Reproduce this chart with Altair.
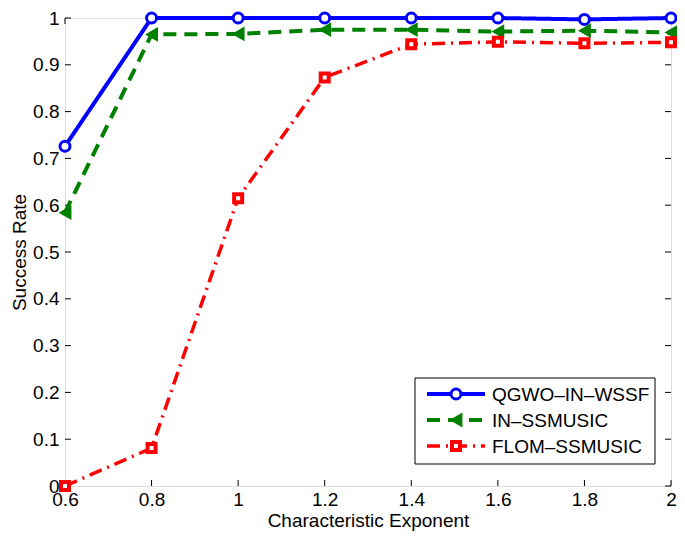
import altair as alt
import pandas as pd

# ---- data ----
exponents = [0.6, 0.8, 1.0, 1.2, 1.4, 1.6, 1.8, 2.0]
qgwo = [0.726, 1.0, 1.0, 1.0, 1.0, 1.0, 0.997, 1.0]
in_ssmusic = [0.584, 0.965, 0.966, 0.975, 0.975, 0.971, 0.973, 0.969]
flom = [0.0, 0.081, 0.615, 0.873, 0.944, 0.949, 0.946, 0.948]
names = ["QGWO\u2013IN\u2013WSSF", "IN\u2013SSMUSIC", "FLOM\u2013SSMUSIC"]
x_ticks = [0.6, 0.8, 1.0, 1.2, 1.4, 1.6, 1.8, 2.0]
y_ticks = [0, 0.1, 0.2, 0.3, 0.4, 0.5, 0.6, 0.7, 0.8, 0.9, 1.0]

PL, PT, PR, PB = 57, 10, 6, 45
W, H = 669 - PL - PR, 523 - PT - PB
FONT = "Liberation Sans"
FS = 19

X = alt.X("x:Q", scale=alt.Scale(domain=[0.6, 2.0], nice=False, zero=False),
          axis=alt.Axis(values=x_ticks, format="~g", ticks=False, domain=False, grid=False,
                        labelFlush=False, labelOverlap=False,
                        labelFontSize=FS, labelFont=FONT, labelColor="black", labelPadding=4,
                        title="Characteristic Exponent", titleFontSize=FS, titleFont=FONT,
                        titleFontWeight="normal", titleColor="black", titlePadding=2))
Y = alt.Y("y:Q", scale=alt.Scale(domain=[0, 1], nice=False),
          axis=alt.Axis(values=y_ticks, format="~g", ticks=False, domain=False, grid=False,
                        labelFlush=False, labelOverlap=False,
                        labelFontSize=FS, labelFont=FONT, labelColor="black", labelPadding=6,
                        title="Success Rate", titleFontSize=FS, titleFont=FONT,
                        titleFontWeight="normal", titleColor="black", titlePadding=3))

styles = [
    dict(color="#0000ff", dash=[1, 0], width=4, shape="circle", size=100, filled=False, sw=3),
    dict(color="#008000", dash=[13, 8], width=4, shape="triangle-left", size=220, filled=True, sw=1),
    dict(color="#ff0000", dash=[13, 6, 2, 6], width=3.5, shape="square", size=64, filled=False, sw=4),
]
series_vals = [qgwo, in_ssmusic, flom]

layers = []

# inward ticks on all four sides
xt = pd.DataFrame({"x": x_ticks})
yt = pd.DataFrame({"y": y_ticks})
tick = dict(color="black", strokeWidth=1)
layers.append(alt.Chart(xt).mark_rule(**tick).encode(x=X, y=alt.value(H), y2=alt.value(H - 6)))
layers.append(alt.Chart(xt).mark_rule(**tick).encode(x=X, y=alt.value(0), y2=alt.value(6)))
layers.append(alt.Chart(yt).mark_rule(**tick).encode(y=Y, x=alt.value(0), x2=alt.value(6)))
layers.append(alt.Chart(yt).mark_rule(**tick).encode(y=Y, x=alt.value(W), x2=alt.value(W - 6)))

for name, vals, st in zip(names, series_vals, styles):
    df = pd.DataFrame({"x": exponents, "y": vals, "series": name})
    layers.append(alt.Chart(df).mark_line(color=st["color"], strokeDash=st["dash"],
                                          strokeWidth=st["width"], clip=False).encode(x=X, y=Y))
    layers.append(alt.Chart(df).mark_point(shape=st["shape"], size=st["size"], filled=st["filled"],
                                           color=st["color"], strokeWidth=st["sw"], opacity=1,
                                           fill=("white" if not st["filled"] else st["color"]),
                                           clip=False).encode(x=X, y=Y))

# ---- legend box (layout only) ----
LX1 = W - 16
LX0 = LX1 - 240
LY1 = H - 22
LY0 = LY1 - 86
rows = [LY0 + 16, LY0 + 42, LY0 + 68]
box = pd.DataFrame({"k": [0]})
layers.append(alt.Chart(box).mark_rect(fill="white", stroke="black", strokeWidth=1).encode(
    x=alt.value(LX0), x2=alt.value(LX1), y=alt.value(LY0), y2=alt.value(LY1)))
for name, st, ry in zip(names, styles, rows):
    ld = pd.DataFrame({"label": [name]})
    layers.append(alt.Chart(ld).mark_rule(color=st["color"], strokeDash=st["dash"],
                                          strokeWidth=st["width"]).encode(
        x=alt.value(LX0 + 12), x2=alt.value(LX0 + 70), y=alt.value(ry)))
    layers.append(alt.Chart(ld).mark_point(shape=st["shape"], size=st["size"], filled=st["filled"],
                                           color=st["color"], strokeWidth=st["sw"], opacity=1,
                                           fill=("white" if not st["filled"] else st["color"])).encode(
        x=alt.value(LX0 + 41), y=alt.value(ry)))
    layers.append(alt.Chart(ld).mark_text(align="left", baseline="middle", font=FONT, fontSize=FS,
                                          color="black").encode(
        x=alt.value(LX0 + 77), y=alt.value(ry + 1), text="label:N"))

chart = alt.layer(*layers).properties(
    width=W, height=H,
    autosize=alt.AutoSizeParams(type="none"),
    padding={"left": PL, "top": PT, "right": PR, "bottom": PB},
).configure_view(stroke="black", strokeWidth=1).configure(background="white")

chart.save("out.html", embed_options={"renderer": "svg", "actions": False})
